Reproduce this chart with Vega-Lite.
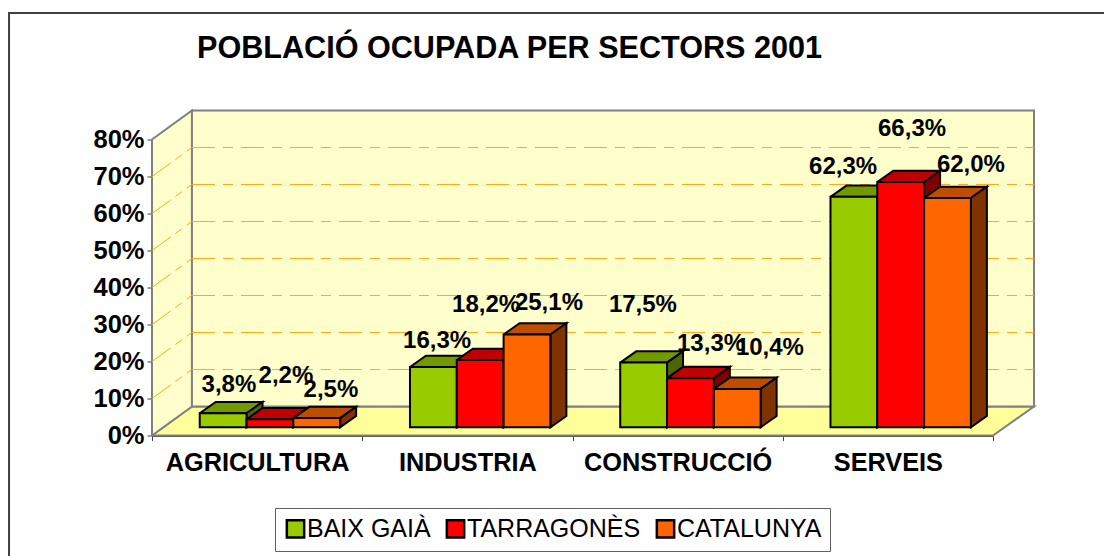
{"$schema":"https://vega.github.io/schema/vega-lite/v6.json","width":841,"height":296,"autosize":"none","padding":{"left":152,"top":139.5,"right":111,"bottom":120.5},"background":"white","config":{"view":{"stroke":null},"font":"Liberation Sans","axis":{"labelOverlap":false,"labelSeparation":0}},"title":{"text":"POBLACIÓ OCUPADA PER SECTORS 2001","anchor":"start","frame":"group","dx":45,"dy":84,"font":"Liberation Sans","fontSize":30.6,"fontWeight":"bold","color":"black","baseline":"alphabetic"},"datasets":{"bars":[{"sector":"AGRICULTURA","series":"BAIX GAIÀ","value":3.8},{"sector":"AGRICULTURA","series":"TARRAGONÈS","value":2.2},{"sector":"AGRICULTURA","series":"CATALUNYA","value":2.5},{"sector":"INDUSTRIA","series":"BAIX GAIÀ","value":16.3},{"sector":"INDUSTRIA","series":"TARRAGONÈS","value":18.2},{"sector":"INDUSTRIA","series":"CATALUNYA","value":25.1},{"sector":"CONSTRUCCIÓ","series":"BAIX GAIÀ","value":17.5},{"sector":"CONSTRUCCIÓ","series":"TARRAGONÈS","value":13.3},{"sector":"CONSTRUCCIÓ","series":"CATALUNYA","value":10.4},{"sector":"SERVEIS","series":"BAIX GAIÀ","value":62.3},{"sector":"SERVEIS","series":"TARRAGONÈS","value":66.3},{"sector":"SERVEIS","series":"CATALUNYA","value":62.0}],"walls":[{"part":"floor","v":0,"x":0,"y":0},{"part":"floor","v":1,"x":0.19,"y":7.84},{"part":"floor","v":2,"x":4.195,"y":7.84},{"part":"floor","v":3,"x":4,"y":0},{"part":"floor","v":4,"x":0,"y":0},{"part":"side","v":0,"x":0,"y":0},{"part":"side","v":1,"x":0.19,"y":7.84},{"part":"side","v":2,"x":0.19,"y":87.84},{"part":"side","v":3,"x":0,"y":80},{"part":"side","v":4,"x":0,"y":0},{"part":"back","v":0,"x":0.19,"y":7.84},{"part":"back","v":1,"x":4.195,"y":7.84},{"part":"back","v":2,"x":4.195,"y":87.84},{"part":"back","v":3,"x":0.19,"y":87.84},{"part":"back","v":4,"x":0.19,"y":7.84}],"frame":[{"v":0,"x":-0.68,"y":-33},{"v":1,"x":-0.68,"y":114.2},{"v":2,"x":4.54,"y":114.2}],"grid":[{"g":10},{"g":20},{"g":30},{"g":40},{"g":50},{"g":60},{"g":70}]},"layer":[{"data":{"name":"walls"},"mark":{"type":"line","stroke":"#808080","strokeWidth":2,"clip":false},"encoding":{"x":{"field":"x","type":"quantitative","scale":{"domain":[0,4],"nice":false,"zero":false},"axis":{"values":[0,0.5,1,1.5,2,2.5,3,3.5,4],"title":null,"grid":false,"domainColor":"#404040","domainWidth":2,"tickColor":"#404040","tickSize":5,"tickWidth":1,"tickOpacity":{"condition":{"test":"datum.value % 1 != 0","value":0},"value":1},"labelFont":"Liberation Sans","labelFontWeight":"bold","labelFontSize":25.3,"labelColor":"black","labelPadding":10,"labelAngle":0,"labelFlush":false,"labelOverlap":false,"labelBound":false,"labelLimit":400,"labelExpr":"datum.value==0.5?'AGRICULTURA':datum.value==1.5?'INDUSTRIA':datum.value==2.5?'CONSTRUCCIÓ':datum.value==3.5?'SERVEIS':''"}},"y":{"field":"y","type":"quantitative","scale":{"domain":[0,80],"nice":false,"zero":false},"axis":{"values":[0,10,20,30,40,50,60,70,80],"tickCount":9,"title":null,"grid":false,"domainColor":"#404040","domainWidth":2,"tickColor":"#404040","tickSize":5,"tickWidth":1,"labelFont":"Liberation Sans","labelFontWeight":"bold","labelFontSize":25.5,"labelColor":"black","labelPadding":3,"labelExpr":"datum.value+'%'","labelOverlap":false,"labelBound":false,"labelFlush":false}},"detail":{"field":"part"},"order":{"field":"v"},"fill":{"field":"part","type":"nominal","scale":{"domain":["floor","side","back"],"range":["#FFFF99","#FFFFCC","#FFFFCC"]},"legend":null}}},{"data":{"name":"frame"},"mark":{"type":"line","stroke":"#404040","strokeWidth":2,"clip":false},"encoding":{"x":{"field":"x","type":"quantitative"},"y":{"field":"y","type":"quantitative"},"order":{"field":"v"}}},{"data":{"name":"grid"},"transform":[{"calculate":"datum.g+7.84","as":"gb"},{"calculate":"0.19","as":"xb"},{"calculate":"4.195","as":"xe"}],"mark":{"type":"rule","stroke":"#FFA820","strokeWidth":1,"strokeDash":[23,8,10,8],"clip":false},"encoding":{"x":{"field":"xb","type":"quantitative"},"x2":{"field":"xe"},"y":{"field":"gb","type":"quantitative"}}},{"data":{"name":"grid"},"transform":[{"calculate":"datum.g+7.84","as":"gb"},{"calculate":"0","as":"xa"},{"calculate":"0.19","as":"xb"}],"mark":{"type":"rule","stroke":"#FFA820","strokeWidth":1,"strokeDash":[23,6,8,6],"clip":false},"encoding":{"x":{"field":"xa","type":"quantitative"},"x2":{"field":"xb"},"y":{"field":"g","type":"quantitative"},"y2":{"field":"gb"}}},{"data":{"name":"bars"},"transform":[{"calculate":"indexof(['AGRICULTURA','INDUSTRIA','CONSTRUCCIÓ','SERVEIS'],datum.sector)","as":"si"},{"calculate":"indexof(['BAIX GAIÀ','TARRAGONÈS','CATALUNYA'],datum.series)","as":"bi"},{"calculate":"datum.si+0.227+datum.bi*0.2226","as":"x0"},{"calculate":"datum.x0+0.2226","as":"x1"},{"calculate":"datum.value+2.2","as":"top"},{"calculate":"['top','side']","as":"face"},{"flatten":["face"]},{"calculate":"[0,1,2,3,4]","as":"v"},{"flatten":["v"]},{"calculate":"datum.face=='top'?[datum.x0,datum.x1,datum.x1+0.0761,datum.x0+0.0761,datum.x0][datum.v]:[datum.x1,datum.x1+0.0761,datum.x1+0.0761,datum.x1,datum.x1][datum.v]","as":"px"},{"calculate":"datum.face=='top'?[datum.top,datum.top,datum.top+3.05,datum.top+3.05,datum.top][datum.v]:[datum.top,datum.top+3.05,5.25,2.2,datum.top][datum.v]","as":"py"},{"calculate":"datum.series+'|'+datum.face","as":"key"},{"calculate":"datum.sector+'|'+datum.key","as":"poly"}],"mark":{"type":"line","stroke":"black","strokeWidth":2,"clip":false},"encoding":{"x":{"field":"px","type":"quantitative"},"y":{"field":"py","type":"quantitative"},"detail":{"field":"poly"},"order":{"field":"v"},"fill":{"field":"key","type":"nominal","scale":{"domain":["BAIX GAIÀ|top","BAIX GAIÀ|side","TARRAGONÈS|top","TARRAGONÈS|side","CATALUNYA|top","CATALUNYA|side"],"range":["#739900","#4D6600","#BF0000","#800000","#BF4D00","#803300"]},"legend":null}}},{"data":{"name":"bars"},"transform":[{"calculate":"indexof(['AGRICULTURA','INDUSTRIA','CONSTRUCCIÓ','SERVEIS'],datum.sector)","as":"si"},{"calculate":"indexof(['BAIX GAIÀ','TARRAGONÈS','CATALUNYA'],datum.series)","as":"bi"},{"calculate":"datum.si+0.227+datum.bi*0.2226","as":"x0"},{"calculate":"datum.x0+0.2226","as":"x1"},{"calculate":"datum.value+2.2","as":"top"},{"calculate":"2.2","as":"base"}],"mark":{"type":"rect","stroke":"black","strokeWidth":2,"clip":false},"encoding":{"x":{"field":"x0","type":"quantitative"},"x2":{"field":"x1"},"y":{"field":"top","type":"quantitative"},"y2":{"field":"base"},"fill":{"field":"series","type":"nominal","scale":{"domain":["BAIX GAIÀ","TARRAGONÈS","CATALUNYA"],"range":["#99CC00","#FF0000","#FF6600"]},"legend":{"orient":"none","legendX":123,"legendY":368.5,"direction":"horizontal","columns":3,"title":null,"strokeColor":"#606060","fillColor":"white","padding":8,"symbolType":"square","symbolSize":300,"symbolStrokeColor":"black","symbolStrokeWidth":2.5,"labelFont":"Liberation Sans","labelFontSize":25,"labelColor":"black","labelOffset":-1,"labelLimit":400,"columnPadding":10}}}},{"data":{"name":"bars"},"transform":[{"window":[{"op":"row_number","as":"rn"}]},{"calculate":"[0.366,0.637,0.851,1.356,1.589,1.888,2.335,2.659,2.939,3.287,3.615,3.895][datum.rn-1]","as":"lx"},{"calculate":"[13.65,16.08,12.3,25.54,35.27,35.81,35.27,24.73,23.65,72.57,82.84,73.11][datum.rn-1]","as":"ly"},{"calculate":"replace(format(datum.value,'.1f'),'.',',')+'%'","as":"label"}],"mark":{"type":"text","font":"Liberation Sans","fontWeight":"bold","fontSize":24,"color":"black","align":"center","baseline":"middle","clip":false},"encoding":{"x":{"field":"lx","type":"quantitative"},"y":{"field":"ly","type":"quantitative"},"text":{"field":"label"}}}],"resolve":{"scale":{"fill":"independent"}}}
